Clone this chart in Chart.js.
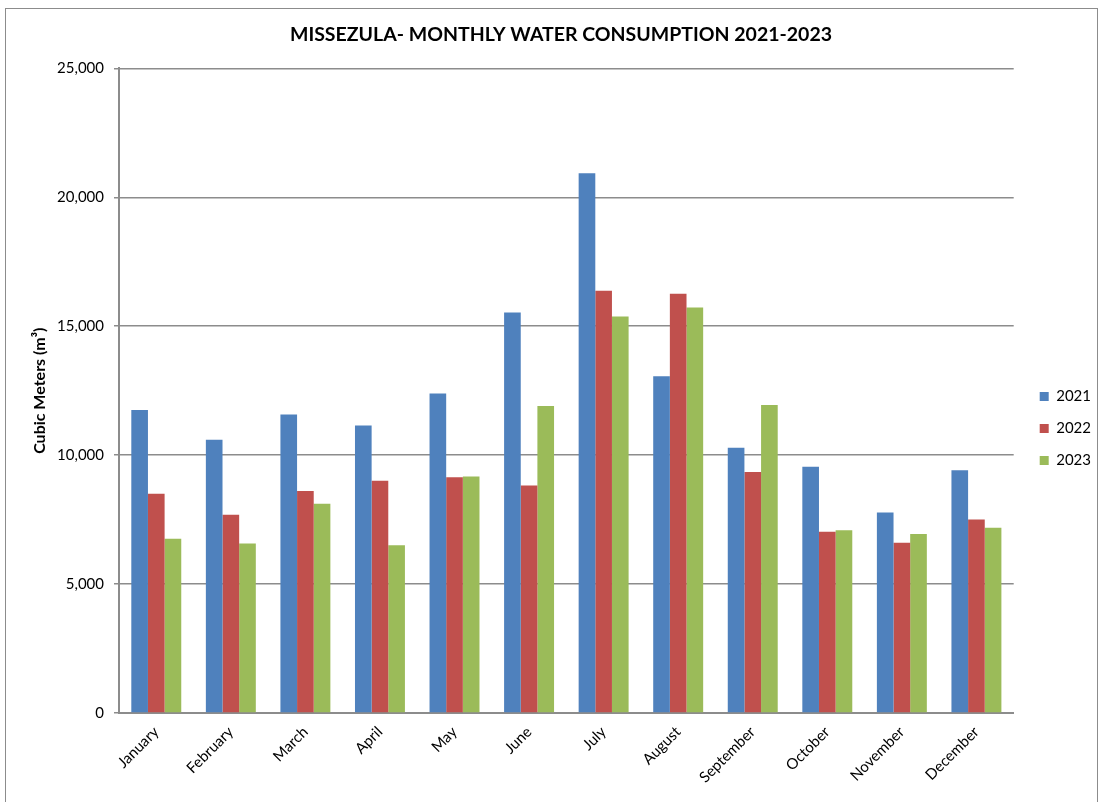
<!DOCTYPE html>
<html>
<head>
<meta charset="utf-8">
<script src="https://cdn.jsdelivr.net/npm/chart.js@4/dist/chart.umd.min.js"></script>
<style>
  html, body { margin: 0; padding: 0; background: #fff; }
  #wrap { position: relative; width: 1102px; height: 802px; }
</style>
</head>
<body>
<div id="wrap"><canvas id="c" width="1102" height="802"></canvas></div>
<script>
const months = ['January','February','March','April','May','June','July','August','September','October','November','December'];
const series2021 = [11750, 10600, 11580, 11150, 12390, 15530, 20930, 13060, 10290, 9550, 7780, 9410];
const series2022 = [8500, 7690, 8610, 9010, 9140, 8820, 16380, 16260, 9350, 7030, 6600, 7500];
const series2023 = [6760, 6570, 8120, 6510, 9170, 11910, 15380, 15730, 11950, 7090, 6940, 7180];
const yearLabels = ['2021', '2022', '2023'];
const colors = ['#4F81BD', '#C0504D', '#9BBB59'];

const FONT = 'Lato, "Open Sans", "DejaVu Sans", sans-serif';

const frame = {
  id: 'frame',
  beforeDraw(chart) {
    const ctx = chart.ctx;
    ctx.save();
    ctx.fillStyle = '#fff';
    ctx.fillRect(0, 0, chart.width, chart.height);
    ctx.strokeStyle = '#8c8c8c';
    ctx.lineWidth = 1;
    ctx.strokeRect(5.5, 8.5, 1092, 800);
    ctx.restore();
  }
};
const legendShift = {
  id: 'legendShift',
  afterLayout(chart) {
    const l = chart.legend;
    if (l) { l.top += 32; l.bottom += 32; l.left += 9; l.right += 9; }
  }
};

new Chart(document.getElementById('c'), {
  type: 'bar',
  data: {
    labels: months,
    datasets: [
      { label: yearLabels[0], data: series2021, backgroundColor: colors[0] },
      { label: yearLabels[1], data: series2022, backgroundColor: colors[1] },
      { label: yearLabels[2], data: series2023, backgroundColor: colors[2] }
    ]
  },
  options: {
    responsive: false,
    animation: false,
    layout: { padding: { left: 30, right: 10, top: 0, bottom: 9 } },
    datasets: { bar: { categoryPercentage: 0.67, barPercentage: 1.0 } },
    plugins: {
      title: {
        display: true,
        text: 'MISSEZULA- MONTHLY WATER CONSUMPTION 2021-2023',
        color: '#000',
        font: { family: FONT, size: 19.5, weight: 'bold' },
        padding: { top: 23, bottom: 22 }
      },
      legend: {
        position: 'right',
        labels: {
          boxWidth: 9, boxHeight: 9,
          color: '#000',
          padding: 17,
          font: { family: FONT, size: 15 }
        }
      },
      tooltip: { enabled: false }
    },
    scales: {
      x: {
        grid: { display: false, drawTicks: false },
        border: { color: '#8c8c8c', width: 2 },
        ticks: {
          color: '#000',
          font: { family: FONT, size: 15 },
          maxRotation: 45, minRotation: 45,
          padding: 10
        },
        afterFit(scale) { scale.height = 80; }
      },
      y: {
        min: 0, max: 25000,
        grid: { color: '#8c8c8c', lineWidth: 1.5, tickLength: 5 },
        border: { color: '#8c8c8c', width: 2 },
        ticks: {
          stepSize: 5000,
          color: '#000',
          padding: 10,
          font: { family: FONT, size: 15 },
          callback: v => v.toLocaleString('en-US')
        },
        title: {
          display: true,
          text: 'Cubic Meters (m³)',
          color: '#000',
          font: { family: FONT, size: 16, weight: 'bold' },
          padding: 0
        },
        afterFit(scale) { scale.width = 89; }
      }
    }
  },
  plugins: [frame, legendShift]
});
</script>
</body>
</html>
